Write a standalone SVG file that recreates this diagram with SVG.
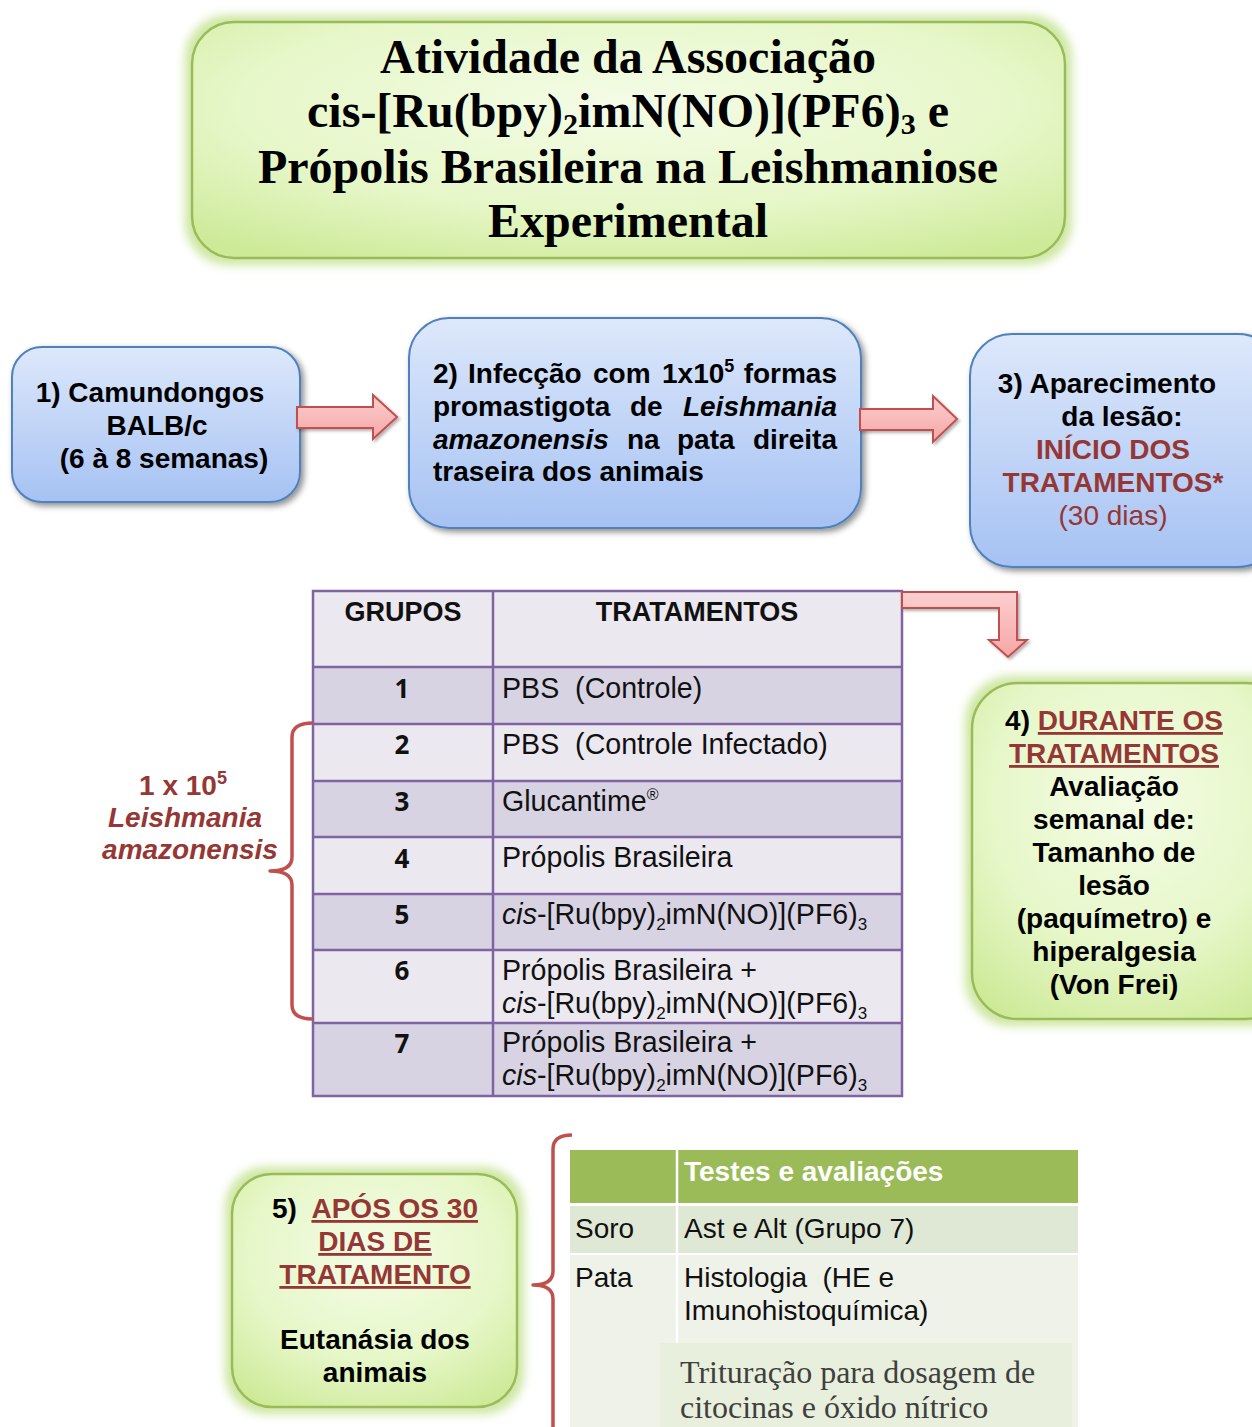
<svg xmlns="http://www.w3.org/2000/svg" width="1252" height="1427" viewBox="0 0 1252 1427">
<defs>
<linearGradient id="blueG" x1="0" y1="0" x2="0" y2="1">
<stop offset="0" stop-color="#dde8fb"/><stop offset="1" stop-color="#a6c2f3"/>
</linearGradient>
<radialGradient id="greenG" cx="50%" cy="35%" r="75%">
<stop offset="0" stop-color="#f4fce6"/><stop offset="0.6" stop-color="#e6f7c8"/><stop offset="1" stop-color="#cdea98"/>
</radialGradient>
<linearGradient id="pinkG" x1="0" y1="0" x2="0" y2="1">
<stop offset="0" stop-color="#fccfcf"/><stop offset="1" stop-color="#f5a6a6"/>
</linearGradient>
<filter id="shadow" x="-10%" y="-10%" width="125%" height="130%">
<feDropShadow dx="3" dy="3" stdDeviation="3" flood-color="#000" flood-opacity="0.45"/>
</filter>
<filter id="ashadow" x="-10%" y="-20%" width="130%" height="150%">
<feDropShadow dx="2" dy="2" stdDeviation="1.5" flood-color="#000" flood-opacity="0.3"/>
</filter>
<filter id="glow" x="-10%" y="-10%" width="120%" height="120%">
<feMorphology in="SourceAlpha" operator="dilate" radius="6" result="d"/>
<feGaussianBlur in="d" stdDeviation="5" result="b"/>
<feFlood flood-color="#c6e394" flood-opacity="0.85"/>
<feComposite in2="b" operator="in" result="g"/>
<feMerge><feMergeNode in="g"/><feMergeNode in="SourceGraphic"/></feMerge>
</filter>
<style>
.blue{fill:url(#blueG);stroke:#4f81bd;stroke-width:2}
.green{fill:url(#greenG);stroke:#9bbb59;stroke-width:2.5}
.arrow{fill:url(#pinkG);stroke:#c0504d;stroke-width:2}
.t{font-family:"Liberation Sans",Arial,sans-serif;font-size:28px;font-weight:bold;fill:#000}
.title{font-family:"Liberation Serif","Times New Roman",serif;font-size:48px;font-weight:bold;fill:#000;text-anchor:middle}
.red{fill:#953735}
.c{text-anchor:middle}
.e{text-anchor:end}
.u{text-decoration:underline}
.reg{font-weight:normal}
.it{font-style:italic}
.hdr{font-family:"Liberation Sans",Arial,sans-serif;font-size:27px;font-weight:bold;fill:#111;text-anchor:middle}
.num{font-family:"Open Sans","Liberation Sans",sans-serif;font-size:26px;font-weight:bold;fill:#111;text-anchor:middle}
.tr{font-family:"Liberation Sans",Arial,sans-serif;font-size:28.6px;fill:#111}
.light{fill:#ebe8f0}
.dark{fill:#d8d3e3}
.grid{stroke:#8064a2;stroke-width:2.5;fill:none}
.brace{fill:none;stroke:#c0504d;stroke-width:3.5;stroke-linejoin:round}
.t2{font-family:"Liberation Sans",Arial,sans-serif;font-size:28px;fill:#111}
.tim{font-family:"Liberation Serif","Times New Roman",serif;font-size:32px;fill:#3f3f3f}
</style>
</defs>
<rect width="1252" height="1427" fill="#ffffff"/>

<g id="title">
<rect x="192" y="22" width="873" height="236" rx="42" class="green" filter="url(#glow)"/>
<text class="title" x="628" y="73">Atividade da Associação</text>
<text class="title" x="628" y="127">cis-[Ru(bpy)<tspan font-size="30" dy="7">2</tspan><tspan dy="-7">imN(NO)](PF6)</tspan><tspan font-size="30" dy="7">3</tspan><tspan dy="-7"> e</tspan></text>
<text class="title" x="628" y="183">Própolis Brasileira na Leishmaniose</text>
<text class="title" x="628" y="237">Experimental</text>
</g>

<g id="node1">
<rect x="12" y="347" width="288" height="155" rx="30" class="blue" filter="url(#shadow)"/>
<text class="t c" x="150" y="402">1) Camundongos</text>
<text class="t c" x="157" y="435">BALB/c</text>
<text class="t c" x="164" y="468">(6 à 8 semanas)</text>
</g>

<g id="node2">
<rect x="409" y="318" width="452" height="210" rx="40" class="blue" filter="url(#shadow)"/>
<text class="t" x="433" y="383">2)</text>
<text class="t" x="468" y="383">Infecção</text>
<text class="t" x="593" y="383">com</text>
<text class="t" x="662" y="383">1x10<tspan font-size="18" dy="-11">5</tspan></text>
<text class="t e" x="837" y="383">formas</text>
<text class="t" x="433" y="416">promastigota</text>
<text class="t" x="630" y="416">de</text>
<text class="t e it" x="837" y="416">Leishmania</text>
<text class="t it" x="433" y="449">amazonensis</text>
<text class="t" x="627" y="449">na</text>
<text class="t" x="677" y="449">pata</text>
<text class="t e" x="837" y="449">direita</text>
<text class="t" x="433" y="481">traseira dos animais</text>
</g>

<g id="node3">
<rect x="970" y="334" width="310" height="233" rx="42" class="blue" filter="url(#shadow)"/>
<text class="t c" x="1107" y="393">3) Aparecimento</text>
<text class="t c" x="1122" y="426">da lesão:</text>
<text class="t c red" x="1113" y="459">INÍCIO DOS</text>
<text class="t c red" x="1113" y="492">TRATAMENTOS*</text>
<text class="t c red reg" x="1113" y="525">(30 dias)</text>
</g>

<g id="table-grupos">
<rect x="313" y="591" width="589" height="76" class="light"/>
<rect x="313" y="667" width="589" height="57" class="dark"/>
<rect x="313" y="724" width="589" height="57" class="light"/>
<rect x="313" y="781" width="589" height="56" class="dark"/>
<rect x="313" y="837" width="589" height="57" class="light"/>
<rect x="313" y="894" width="589" height="56" class="dark"/>
<rect x="313" y="950" width="589" height="73" class="light"/>
<rect x="313" y="1023" width="589" height="73" class="dark"/>
<rect x="313" y="591" width="589" height="505" class="grid"/>
<path class="grid" d="M493 591V1096M313 667H902M313 724H902M313 781H902M313 837H902M313 894H902M313 950H902M313 1023H902"/>
<text class="hdr" x="403" y="621">GRUPOS</text>
<text class="hdr" x="697" y="621">TRATAMENTOS</text>
<text class="num" x="402" y="698">1</text>
<text class="num" x="402" y="754">2</text>
<text class="num" x="402" y="811">3</text>
<text class="num" x="402" y="868">4</text>
<text class="num" x="402" y="924">5</text>
<text class="num" x="402" y="980">6</text>
<text class="num" x="402" y="1053">7</text>
<text class="tr" x="502" y="698" xml:space="preserve">PBS  (Controle)</text>
<text class="tr" x="502" y="754" xml:space="preserve">PBS  (Controle Infectado)</text>
<text class="tr" x="502" y="811">Glucantime<tspan font-size="16" dy="-11">®</tspan></text>
<text class="tr" x="502" y="867">Própolis Brasileira</text>
<text class="tr" x="502" y="924"><tspan font-style="italic">cis</tspan>-[Ru(bpy)<tspan font-size="17" dy="6">2</tspan><tspan dy="-6">imN(NO)](PF6)</tspan><tspan font-size="17" dy="6">3</tspan></text>
<text class="tr" x="502" y="980">Própolis Brasileira +</text>
<text class="tr" x="502" y="1013"><tspan font-style="italic">cis</tspan>-[Ru(bpy)<tspan font-size="17" dy="6">2</tspan><tspan dy="-6">imN(NO)](PF6)</tspan><tspan font-size="17" dy="6">3</tspan></text>
<text class="tr" x="502" y="1052">Própolis Brasileira +</text>
<text class="tr" x="502" y="1085"><tspan font-style="italic">cis</tspan>-[Ru(bpy)<tspan font-size="17" dy="6">2</tspan><tspan dy="-6">imN(NO)](PF6)</tspan><tspan font-size="17" dy="6">3</tspan></text>
</g>

<g id="label-leishmania">
<text class="t c red" x="183" y="795">1 x 10<tspan font-size="18" dy="-11">5</tspan></text>
<text class="t c red it" x="185" y="827">Leishmania</text>
<text class="t c red it" x="190" y="859">amazonensis</text>
</g>

<g id="node4">
<rect x="972" y="683" width="320" height="336" rx="46" class="green" filter="url(#glow)"/>
<text class="t c" x="1114" y="730">4) <tspan class="red u">DURANTE OS</tspan></text>
<text class="t c red u" x="1114" y="763">TRATAMENTOS</text>
<text class="t c" x="1114" y="796">Avaliação</text>
<text class="t c" x="1114" y="829">semanal de:</text>
<text class="t c" x="1114" y="862">Tamanho de</text>
<text class="t c" x="1114" y="895">lesão</text>
<text class="t c" x="1114" y="928">(paquímetro) e</text>
<text class="t c" x="1114" y="961">hiperalgesia</text>
<text class="t c" x="1114" y="994">(Von Frei)</text>
</g>

<g id="node5">
<rect x="232" y="1174" width="285" height="233" rx="40" class="green" filter="url(#glow)"/>
<text class="t c" x="375" y="1218" xml:space="preserve">5)  <tspan class="red u">APÓS OS 30</tspan></text>
<text class="t c red u" x="375" y="1251">DIAS DE</text>
<text class="t c red u" x="375" y="1284">TRATAMENTO</text>
<text class="t c" x="375" y="1349">Eutanásia dos</text>
<text class="t c" x="375" y="1382">animais</text>
</g>

<g id="table-testes">
<rect x="570" y="1150" width="508" height="53" fill="#9bbb59"/>
<rect x="570" y="1206" width="508" height="47" fill="#dfe8d4"/>
<rect x="570" y="1255" width="508" height="172" fill="#eef2e9"/>
<path d="M677 1150V1343" stroke="#ffffff" stroke-width="2.5"/>
<rect x="660" y="1343" width="412" height="84" fill="#e8efdc"/>
<text class="t" x="684" y="1181" style="fill:#ffffff">Testes e avaliações</text>
<text class="t2" x="575" y="1238">Soro</text>
<text class="t2" x="684" y="1238">Ast e Alt (Grupo 7)</text>
<text class="t2" x="575" y="1287">Pata</text>
<text class="t2" x="684" y="1287" xml:space="preserve">Histologia  (HE e</text>
<text class="t2" x="684" y="1320">Imunohistoquímica)</text>
<text class="tim" x="680" y="1383">Trituração para dosagem de</text>
<text class="tim" x="680" y="1418">citocinas e óxido nítrico</text>
</g>

<g id="connectors">
<path class="arrow" filter="url(#ashadow)" d="M297 407H373V395L397 417L373 439V428H297Z"/>
<path class="arrow" filter="url(#ashadow)" d="M860 409H933V396L957 419L933 442V430H860Z"/>
<path class="arrow" filter="url(#ashadow)" d="M902 592H1017V640H1027L1008 657L989 640H999V608H902Z"/>
<path class="brace" d="M313 723Q292 723 292 737V857Q292 871 270 871Q292 871 292 885V1005Q292 1019 313 1019"/>
<path class="brace" d="M572 1135Q553 1135 553 1149V1271Q553 1285 533 1285Q553 1285 553 1299V1430"/>
</g>
</svg>
